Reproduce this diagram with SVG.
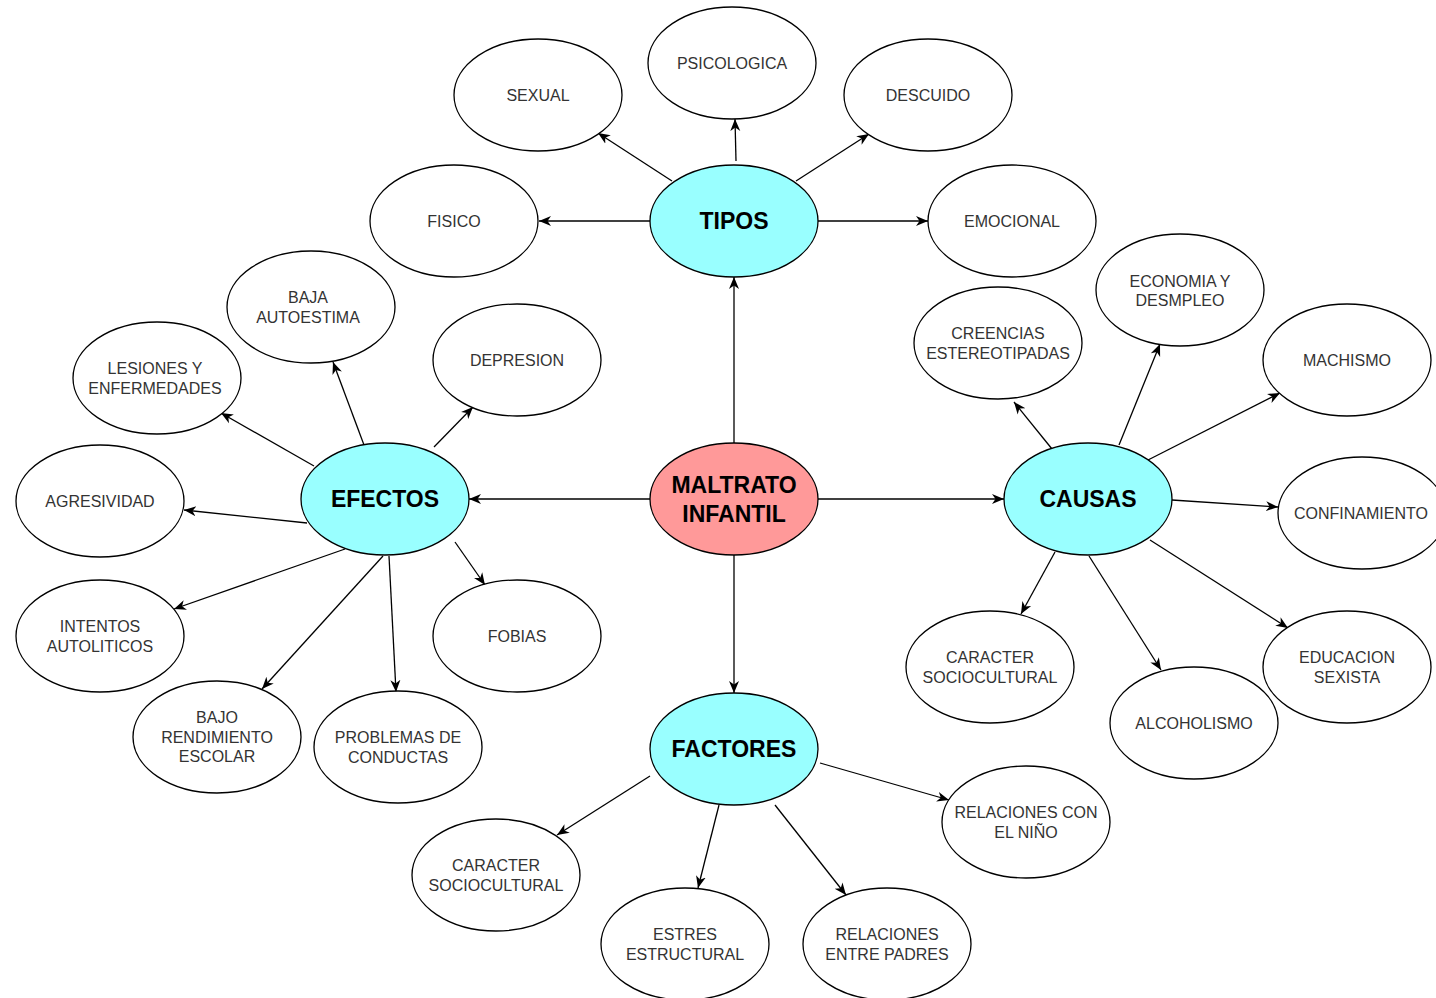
<svg xmlns="http://www.w3.org/2000/svg" width="1436" height="998" viewBox="0 0 1436 998">
<defs>
<marker id="arr" markerUnits="userSpaceOnUse" markerWidth="14" markerHeight="14" viewBox="0 0 14 14" refX="12" refY="7" orient="auto">
<path d="M0,2 L12,7 L0,12 L3.5,7 z" fill="#000"/>
</marker>
<style>
.n ellipse{fill:#fff;stroke:#000;stroke-width:1.3}
.m ellipse{fill:#99ffff;stroke:#000;stroke-width:1.3}
.r ellipse{fill:#ff9999;stroke:#000;stroke-width:1.3}
.n text{font-family:"Liberation Sans",Arial,sans-serif;font-size:16px;fill:#333;text-anchor:middle}
.m text,.r text{font-family:"Liberation Sans",Arial,sans-serif;font-size:23px;font-weight:bold;fill:#000;text-anchor:middle}
#edges line{stroke:#000;stroke-width:1.3;marker-end:url(#arr)}
</style>
</defs>
<rect width="1436" height="998" fill="#fff"/>
<g id="edges">
<line x1="650" y1="221" x2="539" y2="221"/>
<line x1="672" y1="181" x2="598" y2="133"/>
<line x1="736" y1="161" x2="735" y2="119"/>
<line x1="796" y1="181" x2="869" y2="134"/>
<line x1="818" y1="221" x2="928" y2="221"/>
<line x1="734" y1="443" x2="734" y2="277"/>
<line x1="650" y1="499" x2="469" y2="499"/>
<line x1="818" y1="499" x2="1004" y2="499"/>
<line x1="734" y1="555" x2="734" y2="693"/>
<line x1="364" y1="445" x2="333" y2="362"/>
<line x1="314" y1="466" x2="221" y2="413"/>
<line x1="434" y1="447" x2="473" y2="407"/>
<line x1="307" y1="523" x2="184" y2="510"/>
<line x1="345" y1="549" x2="174" y2="609"/>
<line x1="383" y1="556" x2="262" y2="689"/>
<line x1="389" y1="556" x2="396" y2="692"/>
<line x1="455" y1="542" x2="485" y2="585"/>
<line x1="1052" y1="449" x2="1014" y2="402"/>
<line x1="1119" y1="445" x2="1160" y2="344"/>
<line x1="1148" y1="460" x2="1280" y2="393"/>
<line x1="1172" y1="500" x2="1278" y2="507"/>
<line x1="1150" y1="540" x2="1288" y2="628"/>
<line x1="1089" y1="556" x2="1161" y2="670"/>
<line x1="1055" y1="552" x2="1021" y2="614"/>
<line x1="650" y1="776" x2="557" y2="835"/>
<line x1="719" y1="805" x2="698" y2="888"/>
<line x1="775" y1="805" x2="846" y2="895"/>
<line x1="820" y1="763" x2="949" y2="800"/>
</g>
<g id="maltrato" class="r"><ellipse cx="734" cy="499" rx="84" ry="56"/><text x="734" y="493">MALTRATO</text><text x="734" y="522">INFANTIL</text></g>
<g id="tipos" class="m"><ellipse cx="734" cy="221" rx="84" ry="56"/><text x="734" y="229">TIPOS</text></g>
<g id="efectos" class="m"><ellipse cx="385" cy="499" rx="84" ry="56"/><text x="385" y="507">EFECTOS</text></g>
<g id="causas" class="m"><ellipse cx="1088" cy="499" rx="84" ry="56"/><text x="1088" y="507">CAUSAS</text></g>
<g id="factores" class="m"><ellipse cx="734" cy="749" rx="84" ry="56"/><text x="734" y="757">FACTORES</text></g>
<g id="fisico" class="n"><ellipse cx="454" cy="221" rx="84" ry="56"/><text x="454" y="227">FISICO</text></g>
<g id="sexual" class="n"><ellipse cx="538" cy="95" rx="84" ry="56"/><text x="538" y="101">SEXUAL</text></g>
<g id="psicologica" class="n"><ellipse cx="732" cy="63" rx="84" ry="56"/><text x="732" y="69">PSICOLOGICA</text></g>
<g id="descuido" class="n"><ellipse cx="928" cy="95" rx="84" ry="56"/><text x="928" y="101">DESCUIDO</text></g>
<g id="emocional" class="n"><ellipse cx="1012" cy="221" rx="84" ry="56"/><text x="1012" y="227">EMOCIONAL</text></g>
<g id="baja-autoestima" class="n"><ellipse cx="311" cy="307" rx="84" ry="56"/><text x="308" y="303">BAJA</text><text x="308" y="323">AUTOESTIMA</text></g>
<g id="lesiones" class="n"><ellipse cx="157" cy="378" rx="84" ry="56"/><text x="155" y="374">LESIONES Y</text><text x="155" y="394">ENFERMEDADES</text></g>
<g id="depresion" class="n"><ellipse cx="517" cy="360" rx="84" ry="56"/><text x="517" y="366">DEPRESION</text></g>
<g id="agresividad" class="n"><ellipse cx="100" cy="501" rx="84" ry="56"/><text x="100" y="507">AGRESIVIDAD</text></g>
<g id="intentos" class="n"><ellipse cx="100" cy="636" rx="84" ry="56"/><text x="100" y="632">INTENTOS</text><text x="100" y="652">AUTOLITICOS</text></g>
<g id="bajo-rendimiento" class="n"><ellipse cx="217" cy="737" rx="84" ry="56"/><text x="217" y="723">BAJO</text><text x="217" y="743">RENDIMIENTO</text><text x="217" y="762">ESCOLAR</text></g>
<g id="problemas" class="n"><ellipse cx="398" cy="747" rx="84" ry="56"/><text x="398" y="743">PROBLEMAS DE</text><text x="398" y="763">CONDUCTAS</text></g>
<g id="fobias" class="n"><ellipse cx="517" cy="636" rx="84" ry="56"/><text x="517" y="642">FOBIAS</text></g>
<g id="creencias" class="n"><ellipse cx="998" cy="343" rx="84" ry="56"/><text x="998" y="339">CREENCIAS</text><text x="998" y="359">ESTEREOTIPADAS</text></g>
<g id="economia" class="n"><ellipse cx="1180" cy="290" rx="84" ry="56"/><text x="1180" y="287">ECONOMIA Y</text><text x="1180" y="306">DESMPLEO</text></g>
<g id="machismo" class="n"><ellipse cx="1347" cy="360" rx="84" ry="56"/><text x="1347" y="366">MACHISMO</text></g>
<g id="confinamiento" class="n"><ellipse cx="1362" cy="513" rx="84" ry="56"/><text x="1361" y="519">CONFINAMIENTO</text></g>
<g id="educacion" class="n"><ellipse cx="1347" cy="667" rx="84" ry="56"/><text x="1347" y="663">EDUCACION</text><text x="1347" y="683">SEXISTA</text></g>
<g id="alcoholismo" class="n"><ellipse cx="1194" cy="723" rx="84" ry="56"/><text x="1194" y="729">ALCOHOLISMO</text></g>
<g id="caracter-causas" class="n"><ellipse cx="990" cy="667" rx="84" ry="56"/><text x="990" y="663">CARACTER</text><text x="990" y="683">SOCIOCULTURAL</text></g>
<g id="relaciones-nino" class="n"><ellipse cx="1026" cy="822" rx="84" ry="56"/><text x="1026" y="818">RELACIONES CON</text><text x="1026" y="838">EL NIÑO</text></g>
<g id="caracter-factores" class="n"><ellipse cx="496" cy="875" rx="84" ry="56"/><text x="496" y="871">CARACTER</text><text x="496" y="891">SOCIOCULTURAL</text></g>
<g id="estres" class="n"><ellipse cx="685" cy="944" rx="84" ry="56"/><text x="685" y="940">ESTRES</text><text x="685" y="960">ESTRUCTURAL</text></g>
<g id="relaciones-padres" class="n"><ellipse cx="887" cy="944" rx="84" ry="56"/><text x="887" y="940">RELACIONES</text><text x="887" y="960">ENTRE PADRES</text></g>
</svg>
